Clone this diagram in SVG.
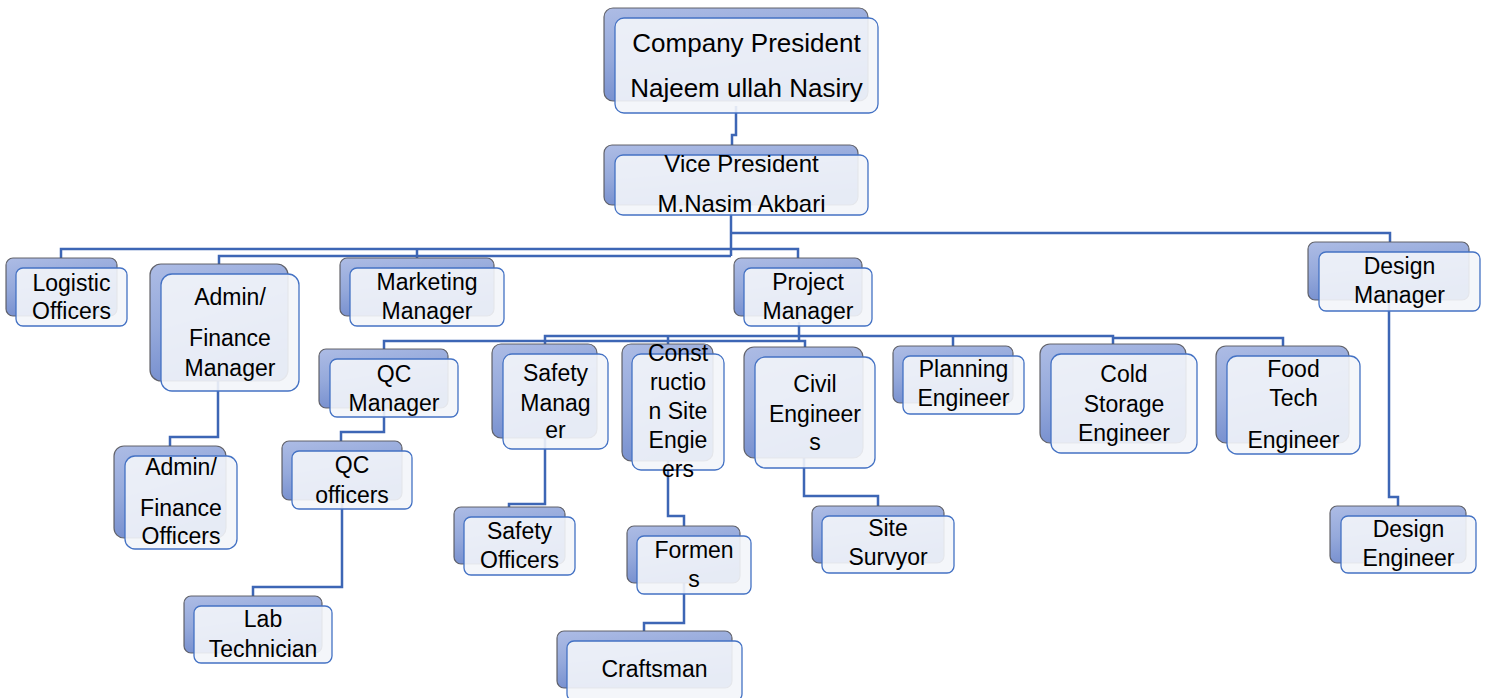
<svg xmlns="http://www.w3.org/2000/svg" width="1488" height="698" viewBox="0 0 1488 698">
<defs>
<linearGradient id="bg" x1="0" y1="0" x2="0.35" y2="1">
<stop offset="0" stop-color="#adbce5"/>
<stop offset="0.5" stop-color="#95a9db"/>
<stop offset="1" stop-color="#738ccd"/>
</linearGradient>
<style>
.bk{fill:url(#bg);stroke:#55555c;stroke-width:1.2;stroke-opacity:0.9}
.fr{fill:#f3f5fa;fill-opacity:0.9;stroke:#4472c4;stroke-width:1.3}
.t{font-family:"Liberation Sans",Arial,sans-serif;font-size:23px;fill:#000;text-anchor:middle}
.t26{font-size:26px}
.t24{font-size:24px}
.c{fill:none;stroke:#3d66b5;stroke-width:2.5;stroke-linejoin:miter}
</style>
</defs>
<rect width="1488" height="698" fill="#fff"/>
<g id="connectors">
<path class="c" d="M736,106 V135 H732 V145"/>
<path class="c" d="M731,212 V256"/>
<path class="c" d="M731,233 H1390 V242"/>
<path class="c" d="M731,249 H61 V258"/>
<path class="c" d="M417,249 V258"/>
<path class="c" d="M731,249 H798 V258"/>
<path class="c" d="M731,256 H219 V264"/>
<path class="c" d="M799,322 V341"/>
<path class="c" d="M799,341 H384 V349"/>
<path class="c" d="M799,336 H545 V344"/>
<path class="c" d="M668,336 V344"/>
<path class="c" d="M799,341 H805 V347"/>
<path class="c" d="M799,336 H1113 V344"/>
<path class="c" d="M1113,338 H1283 V346"/>
<path class="c" d="M953,336 V346"/>
<path class="c" d="M218,381 V437 H170 V446"/>
<path class="c" d="M384,408 V432 H341 V441"/>
<path class="c" d="M342,500 V587 H253 V596"/>
<path class="c" d="M545,438 V504 H509 V507"/>
<path class="c" d="M668,461 V516 H684 V526"/>
<path class="c" d="M684,583 V623 H644 V631"/>
<path class="c" d="M804,458 V496 H878 V506"/>
<path class="c" d="M1389,300 V497 H1398 V506"/>
</g>
<g id="n-president">
<rect class="bk" x="604" y="8" width="264" height="93" rx="9"/>
<rect class="fr" x="615" y="18" width="263" height="95" rx="9"/>
<text class="t t26" x="746.5" y="52">Company President</text>
<text class="t t26" x="746.5" y="97">Najeem ullah Nasiry</text>
</g>
<g id="n-vice">
<rect class="bk" x="604" y="145" width="254" height="60" rx="8"/>
<rect class="fr" x="615" y="155" width="253" height="60" rx="8"/>
<text class="t t24" x="741.5" y="172">Vice President</text>
<text class="t t24" x="741.5" y="212">M.Nasim Akbari</text>
</g>
<g id="n-logistic">
<rect class="bk" x="6" y="258" width="111" height="58" rx="7"/>
<rect class="fr" x="16" y="268" width="111" height="58" rx="7"/>
<text class="t" x="71.5" y="291">Logistic</text>
<text class="t" x="71.5" y="319">Officers</text>
</g>
<g id="n-adminmgr">
<rect class="bk" x="150" y="264" width="138" height="117" rx="11"/>
<rect class="fr" x="161" y="274" width="138" height="117" rx="11"/>
<text class="t" x="230" y="305">Admin/</text>
<text class="t" x="230" y="346">Finance</text>
<text class="t" x="230" y="376">Manager</text>
</g>
<g id="n-marketing">
<rect class="bk" x="340" y="258" width="154" height="58" rx="7"/>
<rect class="fr" x="350" y="268" width="154" height="58" rx="7"/>
<text class="t" x="427" y="290">Marketing</text>
<text class="t" x="427" y="319">Manager</text>
</g>
<g id="n-project">
<rect class="bk" x="734" y="258" width="128" height="58" rx="7"/>
<rect class="fr" x="744" y="268" width="128" height="58" rx="7"/>
<text class="t" x="808" y="290">Project</text>
<text class="t" x="808" y="319">Manager</text>
</g>
<g id="n-designmgr">
<rect class="bk" x="1308" y="242" width="161" height="58" rx="7"/>
<rect class="fr" x="1319" y="252" width="161" height="59" rx="7"/>
<text class="t" x="1399.5" y="274">Design</text>
<text class="t" x="1399.5" y="303">Manager</text>
</g>
<g id="n-qcmgr">
<rect class="bk" x="319" y="349" width="129" height="59" rx="7"/>
<rect class="fr" x="330" y="359" width="128" height="58" rx="7"/>
<text class="t" x="394" y="382">QC</text>
<text class="t" x="394" y="411">Manager</text>
</g>
<g id="n-safetymgr">
<rect class="bk" x="492" y="344" width="105" height="94" rx="9"/>
<rect class="fr" x="503" y="354" width="105" height="95" rx="9"/>
<text class="t" x="555.5" y="381">Safety</text>
<text class="t" x="555.5" y="411">Manag</text>
<text class="t" x="555.5" y="438">er</text>
</g>
<g id="n-construction">
<rect class="bk" x="622" y="344" width="91" height="117" rx="9"/>
<rect class="fr" x="632" y="354" width="92" height="116" rx="9"/>
<text class="t" x="678" y="361">Const</text>
<text class="t" x="678" y="390">ructio</text>
<text class="t" x="678" y="419">n Site</text>
<text class="t" x="678" y="448">Engie</text>
<text class="t" x="678" y="477">ers</text>
</g>
<g id="n-civil">
<rect class="bk" x="744" y="347" width="119" height="111" rx="10"/>
<rect class="fr" x="755" y="357" width="120" height="111" rx="10"/>
<text class="t" x="815" y="392">Civil</text>
<text class="t" x="815" y="422">Engineer</text>
<text class="t" x="815" y="450">s</text>
</g>
<g id="n-planning">
<rect class="bk" x="893" y="346" width="120" height="57" rx="7"/>
<rect class="fr" x="903" y="356" width="121" height="58" rx="7"/>
<text class="t" x="963.5" y="377">Planning</text>
<text class="t" x="963.5" y="406">Engineer</text>
</g>
<g id="n-cold">
<rect class="bk" x="1040" y="344" width="146" height="99" rx="10"/>
<rect class="fr" x="1051" y="354" width="146" height="99" rx="10"/>
<text class="t" x="1124" y="382">Cold</text>
<text class="t" x="1124" y="412">Storage</text>
<text class="t" x="1124" y="441">Engineer</text>
</g>
<g id="n-food">
<rect class="bk" x="1216" y="346" width="133" height="97" rx="10"/>
<rect class="fr" x="1227" y="356" width="133" height="98" rx="10"/>
<text class="t" x="1293.5" y="377">Food</text>
<text class="t" x="1293.5" y="406">Tech</text>
<text class="t" x="1293.5" y="448">Engineer</text>
</g>
<g id="n-adminofficers">
<rect class="bk" x="114" y="446" width="112" height="92" rx="10"/>
<rect class="fr" x="125" y="456" width="112" height="93" rx="10"/>
<text class="t" x="181" y="475">Admin/</text>
<text class="t" x="181" y="516">Finance</text>
<text class="t" x="181" y="544">Officers</text>
</g>
<g id="n-qcofficers">
<rect class="bk" x="282" y="441" width="120" height="59" rx="7"/>
<rect class="fr" x="292" y="451" width="120" height="58" rx="7"/>
<text class="t" x="352" y="473">QC</text>
<text class="t" x="352" y="503">officers</text>
</g>
<g id="n-safetyofficers">
<rect class="bk" x="454" y="507" width="111" height="57" rx="7"/>
<rect class="fr" x="464" y="517" width="111" height="58" rx="7"/>
<text class="t" x="519.5" y="539">Safety</text>
<text class="t" x="519.5" y="568">Officers</text>
</g>
<g id="n-formens">
<rect class="bk" x="627" y="526" width="113" height="57" rx="7"/>
<rect class="fr" x="637" y="536" width="114" height="58" rx="7"/>
<text class="t" x="694" y="558">Formen</text>
<text class="t" x="694" y="587">s</text>
</g>
<g id="n-site">
<rect class="bk" x="812" y="506" width="132" height="57" rx="7"/>
<rect class="fr" x="822" y="516" width="132" height="57" rx="7"/>
<text class="t" x="888" y="536">Site</text>
<text class="t" x="888" y="565">Survyor</text>
</g>
<g id="n-designeng">
<rect class="bk" x="1330" y="506" width="136" height="57" rx="7"/>
<rect class="fr" x="1341" y="516" width="135" height="57" rx="7"/>
<text class="t" x="1408.5" y="537">Design</text>
<text class="t" x="1408.5" y="566">Engineer</text>
</g>
<g id="n-lab">
<rect class="bk" x="184" y="596" width="138" height="57" rx="7"/>
<rect class="fr" x="194" y="606" width="138" height="57" rx="7"/>
<text class="t" x="263" y="627">Lab</text>
<text class="t" x="263" y="657">Technician</text>
</g>
<g id="n-craftsman">
<rect class="bk" x="557" y="631" width="175" height="57" rx="7"/>
<rect class="fr" x="567" y="641" width="175" height="60" rx="7"/>
<text class="t" x="654.5" y="677">Craftsman</text>
</g>
</svg>
